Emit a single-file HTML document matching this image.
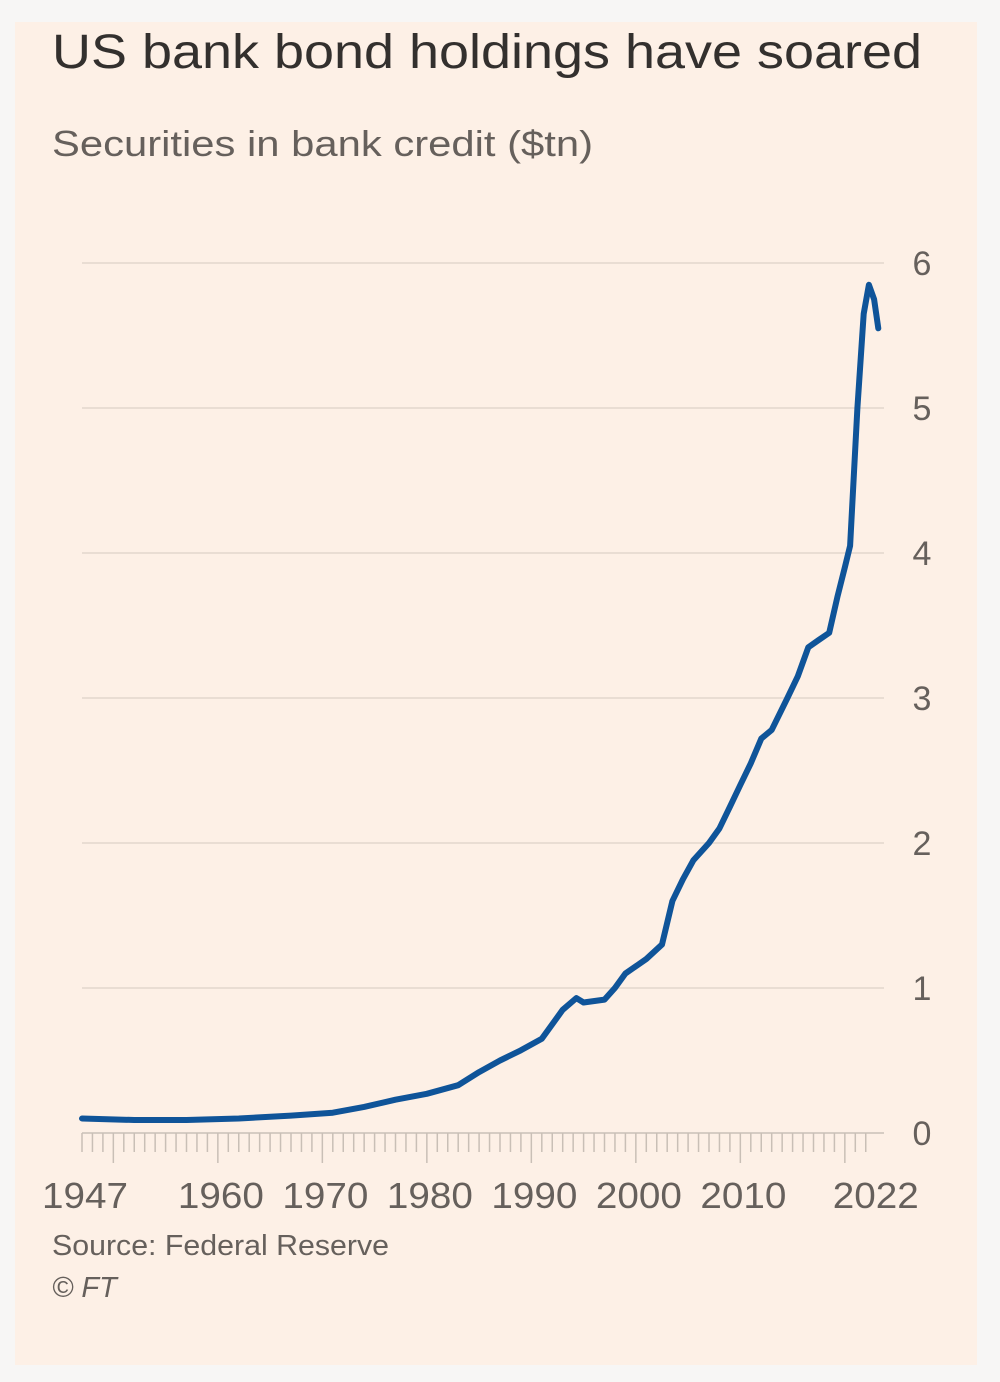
<!DOCTYPE html>
<html><head><meta charset="utf-8"><style>
html,body{margin:0;padding:0;background:#fafafa;}
svg{display:block;}
text{font-family:"Liberation Sans",sans-serif;}
</style></head><body>
<svg id="chart" width="1000" height="1382" viewBox="0 0 1000 1382">
<rect x="0" y="0" width="1000" height="1382" fill="#f7f6f5"/>
<rect x="15" y="22" width="962" height="1343" fill="#fdf0e6"/>
<text x="52" y="68" font-size="48" fill="#33302e" textLength="870" lengthAdjust="spacingAndGlyphs">US bank bond holdings have soared</text>
<text x="52" y="156" font-size="36" fill="#66605c" textLength="541" lengthAdjust="spacingAndGlyphs">Securities in bank credit ($tn)</text>
<g id="grid"></g>
<g id="xaxis"></g>
<g id="series"></g>
<text x="52" y="1255" font-size="29" fill="#66605c" textLength="337" lengthAdjust="spacingAndGlyphs">Source: Federal Reserve</text>
<text x="52" y="1297" font-size="29" fill="#66605c" font-style="italic">© FT</text>
</svg>
<script>
const years=[1947,1952,1957,1962,1967,1971,1974,1977,1980,1983,1985,1987,1989,1991,1993,1994.3,1995,1997,1998,1999,2001,2002.5,2003.5,2004.5,2005.5,2007,2008,2009,2010,2011,2012,2013,2014.5,2015.5,2016.5,2017.5,2018.5,2019.3,2020,2020.5,2021.2,2021.8,2022.3,2022.8,2023.2];
const values=[0.1,0.09,0.09,0.1,0.12,0.14,0.18,0.23,0.27,0.33,0.42,0.5,0.57,0.65,0.85,0.93,0.9,0.92,1.0,1.1,1.2,1.3,1.6,1.75,1.88,2.0,2.1,2.25,2.4,2.55,2.72,2.78,3.0,3.15,3.35,3.4,3.45,3.7,3.9,4.05,5.0,5.65,5.85,5.75,5.55];
const yTicks=[0,1,2,3,4,5,6];
const xTickLabels=[1947,1960,1970,1980,1990,2000,2010,2022];
const NS="http://www.w3.org/2000/svg";
const xs=y=>82+(y-1947)*10.45;
const ys=v=>1133-v*145;
function mk(tag,attrs,parent){const e=document.createElementNS(NS,tag);for(const k in attrs)e.setAttribute(k,attrs[k]);parent.appendChild(e);return e;}
const grid=document.getElementById('grid');
yTicks.forEach(t=>{
  if(t>0){const l=mk('line',{x1:82,x2:884,y1:ys(t),y2:ys(t),stroke:'#e9ddd3','stroke-width':2},grid);
  
  }
  const tx=mk('text',{x:922,y:ys(t)+12,'font-size':34,fill:'#66605c','text-anchor':'middle'},grid);
  tx.textContent=t;
  
  
});
const xa=document.getElementById('xaxis');
const base=mk('line',{x1:82,x2:884,y1:1133,y2:1133,stroke:'#d6ccc3','stroke-width':2},xa);


for(let y=1947;y<=2022;y++){
  const major=(y%10===0);
  const t=mk('line',{x1:xs(y),x2:xs(y),y1:1133,y2:major?1163:1152,stroke:'#c9bfb6','stroke-width':1.5},xa);
  
  
}
xTickLabels.forEach(y=>{
  const off=(y===2022)?10:3;
  const tx=mk('text',{x:xs(y)+off,y:1208,'font-size':36,fill:'#66605c','text-anchor':'middle',textLength:86,lengthAdjust:'spacingAndGlyphs'},xa);
  tx.textContent=y;
  
  
});
const s=document.getElementById('series');
const d=years.map((y,i)=>(i?'L':'M')+xs(y).toFixed(1)+','+ys(values[i]).toFixed(1)).join(' ');
const p=mk('path',{d:d,fill:'none',stroke:'#0f5499','stroke-width':6,'stroke-linejoin':'round','stroke-linecap':'round'},s);


</script>
</body></html>
